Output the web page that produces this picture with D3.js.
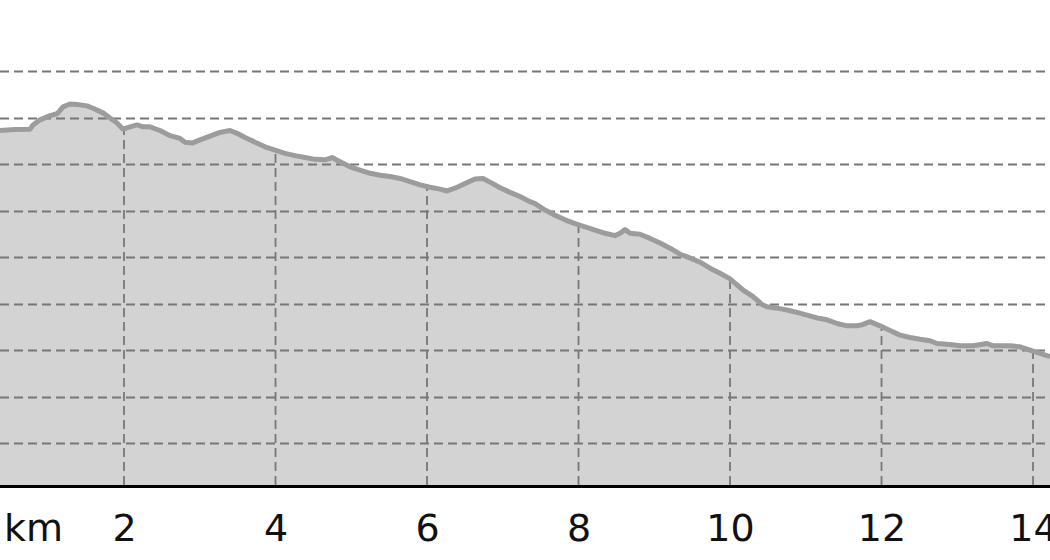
<!DOCTYPE html>
<html>
<head>
<meta charset="utf-8">
<script src="https://cdn.jsdelivr.net/npm/d3@7/dist/d3.min.js"></script>
<style>
  html, body { margin: 0; padding: 0; background: #fff; }
  svg { display: block; }
</style>
</head>
<body>
<svg id="chart" width="1050" height="560"></svg>
<script>
// distance along route (km)
const distKm = [0.363,0.561,0.759,0.799,0.891,1.023,1.116,1.195,1.287,1.380,1.512,1.591,1.723,1.815,1.908,1.987,
  2.079,2.172,2.251,2.343,2.475,2.607,2.739,2.805,2.898,3.003,3.135,3.267,3.399,3.492,3.597,3.729,3.861,3.993,
  4.125,4.257,4.389,4.521,4.653,4.746,4.851,4.983,5.116,5.248,5.380,5.512,5.644,5.776,5.908,6.040,6.172,6.264,
  6.370,6.502,6.634,6.739,6.832,6.964,7.096,7.228,7.360,7.426,7.558,7.690,7.822,7.954,8.086,8.218,8.350,8.482,
  8.548,8.614,8.680,8.812,8.944,9.076,9.208,9.340,9.472,9.604,9.736,9.868,10.000,10.092,10.172,10.304,10.422,
  10.488,10.620,10.752,10.884,11.017,11.149,11.281,11.413,11.545,11.677,11.756,11.848,11.980,12.112,12.244,
  12.376,12.508,12.640,12.733,12.904,13.036,13.208,13.393,13.472,13.697,13.828,13.960,14.092,14.224];
// elevation (m)
const elevM = [267.2,267.4,267.5,268.4,269.5,270.4,270.8,272.3,272.9,272.8,272.5,272.0,271.0,269.9,268.8,267.5,
  268.0,268.4,268.0,268.0,267.2,266.1,265.5,264.7,264.5,265.2,266.0,266.8,267.2,266.6,265.7,264.7,263.7,263.0,
  262.3,261.8,261.4,261.0,260.9,261.4,260.5,259.4,258.7,258.0,257.6,257.3,256.9,256.2,255.5,255.0,254.6,254.2,
  254.8,255.8,256.8,256.9,256.1,254.9,253.9,253.0,251.9,251.5,250.1,249.0,248.0,247.2,246.5,245.8,245.1,244.6,
  245.1,245.9,245.1,244.9,244.0,243.0,241.9,240.6,239.8,238.9,237.6,236.5,235.3,234.0,232.9,231.5,229.8,
  229.3,229.0,228.6,228.1,227.5,226.9,226.5,225.7,225.2,225.2,225.5,226.1,225.2,224.2,223.2,
  222.7,222.3,222.0,221.4,221.2,220.9,220.9,221.4,220.9,220.9,220.7,220.0,219.3,218.6];
// axis ticks
const xTicks = [2, 4, 6, 8, 10, 12, 14];
const yGrid = [200, 210, 220, 230, 240, 250, 260, 270, 280];
const unitLabel = "km";

const W = 1050, H = 560;
const baseY = 486.5;
const svg = d3.select("#chart");

const data = distKm.map((d, i) => ({ km: d, e: elevM[i] }));

const x = d3.scaleLinear().domain([0.363, 14.224]).range([0, W]);
const y = d3.scaleLinear().domain([190.65, 295.27]).range([baseY, 0]);

const area = d3.area().x(d => x(d.km)).y0(baseY).y1(d => y(d.e));
const line = d3.line().x(d => x(d.km)).y(d => y(d.e));

// clip for vertical grid lines (only below profile)
svg.append("defs").append("clipPath").attr("id", "under")
  .append("path").datum(data).attr("d", area);

// fill
svg.append("path").datum(data)
  .attr("d", area)
  .attr("fill", "#d3d3d3");

// horizontal grid
svg.append("g").selectAll("line").data(yGrid).join("line")
  .attr("x1", 0).attr("x2", W)
  .attr("y1", d => Math.round(y(d)) + 0.5).attr("y2", d => Math.round(y(d)) + 0.5)
  .attr("stroke", "#777").attr("stroke-width", 1.8)
  .attr("stroke-dasharray", "9,5");

// vertical grid under profile
svg.append("g").attr("clip-path", "url(#under)")
  .selectAll("line").data(xTicks).join("line")
  .attr("x1", d => x(d)).attr("x2", d => x(d))
  .attr("y1", 0).attr("y2", baseY)
  .attr("stroke", "#777").attr("stroke-width", 1.8)
  .attr("stroke-dasharray", "9,5");

// profile line
svg.append("path").datum(data)
  .attr("d", line)
  .attr("fill", "none")
  .attr("stroke", "#9c9c9c")
  .attr("stroke-width", 5)
  .attr("stroke-linejoin", "round");

// x axis
const axis = d3.axisBottom(x).tickValues(xTicks).tickSize(0).tickPadding(0).tickFormat(d3.format("d"));
const gAxis = svg.append("g").attr("transform", `translate(0,${baseY})`).call(axis);
gAxis.select(".domain").attr("stroke", "#000").attr("stroke-width", 3).attr("d", `M0,0H${W}`);
gAxis.selectAll(".tick text")
  .attr("y", 54.5).attr("dy", null)
  .attr("font-family", "DejaVu Sans")
  .attr("font-size", 38)
  .attr("fill", "#111");

svg.append("text")
  .attr("x", 4).attr("y", baseY + 54.5)
  .attr("font-family", "DejaVu Sans")
  .attr("font-size", 38)
  .attr("fill", "#111")
  .text(unitLabel);
</script>
</body>
</html>
